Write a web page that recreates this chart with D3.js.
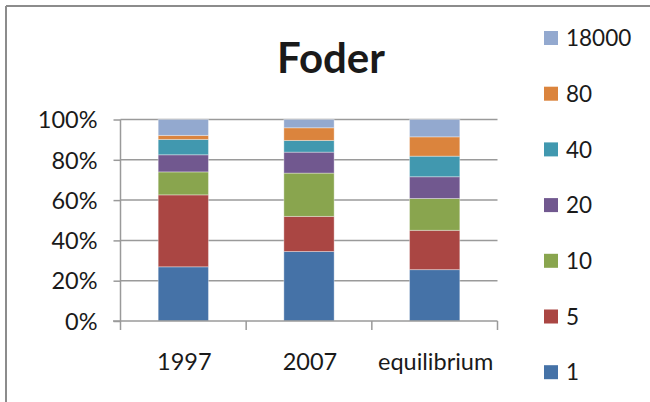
<!DOCTYPE html>
<html>
<head>
<meta charset="utf-8">
<script src="https://cdn.jsdelivr.net/npm/d3@7"></script>
<style>
  body { margin: 0; background: #fff; }
  svg text { font-family: Lato, "Open Sans", sans-serif; fill: #1a1a1a; }
</style>
</head>
<body>
<svg id="chart" width="650" height="402"></svg>
<script>
// Categories and series (share of total, %)
let categories = ["1997", "2007", "equilibrium"];
let seriesNames = ["1", "5", "10", "20", "40", "80", "18000"];
let s1 = [26.9, 34.5, 25.5];
let s5 = [35.7, 17.4, 19.5];
let s10 = [11.4, 21.5, 15.8];
let s20 = [8.5, 10.4, 10.8];
let s40 = [7.6, 5.8, 10.2];
let s80 = [2.0, 6.3, 9.6];
let s18000 = [7.9, 4.1, 8.6];
let yTicks = [0, 0.2, 0.4, 0.6, 0.8, 1];

let colors = ["#4572A7", "#AA4643", "#89A54E", "#71588F", "#4198AF", "#DB843D", "#93A9CF"];

// Build table rows for the stack
let allSeries = [s1, s5, s10, s20, s40, s80, s18000];
let rows = categories.map(function (c, i) {
    let row = { cat: c };
    let total = 0;
    allSeries.forEach(s => total += s[i]);
    seriesNames.forEach(function (n, j) { row[n] = allSeries[j][i] / total; });
    return row;
});

let svg = d3.select("#chart");

// outer frame (top and left edges visible)
svg.append("line").attr("x1", 6).attr("x2", 650).attr("y1", 6).attr("y2", 6)
    .attr("stroke", "#8c8c8c").attr("stroke-width", 2);
svg.append("line").attr("x1", 6).attr("x2", 6).attr("y1", 6).attr("y2", 402)
    .attr("stroke", "#8c8c8c").attr("stroke-width", 2);

let x = d3.scaleBand().domain(categories).range([120.5, 497.5]).paddingInner(0.6).paddingOuter(0.3);
let y = d3.scaleLinear().domain([0, 1]).range([321, 119.5]);

// gridlines
svg.append("g")
    .selectAll("line")
    .data(yTicks.slice(1))
    .enter()
    .append("line")
    .attr("x1", 120.5).attr("x2", 497.5)
    .attr("y1", d => y(d)).attr("y2", d => y(d))
    .attr("stroke", "#9a9a9a").attr("stroke-width", 1.5);

// stacked bars
let stack = d3.stack().keys(seriesNames);
let layers = stack(rows);

svg.append("g")
    .selectAll("g")
    .data(layers)
    .enter()
    .append("g")
    .attr("fill", (d, i) => colors[i])
    .selectAll("rect")
    .data(d => d)
    .enter()
    .append("rect")
    .attr("x", d => x(d.data.cat))
    .attr("width", x.bandwidth())
    .attr("y", d => y(d[1]))
    .attr("height", d => y(d[0]) - y(d[1]))
    .attr("stroke", "rgba(255,255,255,0.35)")
    .attr("stroke-width", 1);

// y axis
let yAxis = d3.axisLeft(y).tickValues(yTicks).tickFormat(d3.format(".0%")).tickSize(7).tickPadding(16);
let gy = svg.append("g").attr("transform", "translate(120.5,0)").call(yAxis);
gy.select(".domain").attr("stroke", "#9a9a9a").attr("stroke-width", 1.5).attr("d", "M0,119.5V321");
gy.selectAll(".tick line").attr("stroke", "#9a9a9a").attr("stroke-width", 1.5);
gy.selectAll("text").style("font-size", "23.5px").attr("dy", "0.35em").attr("fill", "#1a1a1a");

// x axis
let gx = svg.append("g").attr("transform", "translate(0,321)");
gx.append("line").attr("x1", 113).attr("x2", 497.5).attr("stroke", "#9a9a9a").attr("stroke-width", 1.5);
let xTickPos = [120.5].concat(categories.map(c => x(c) + x.bandwidth() / 2 + x.step() / 2));
gx.selectAll("line.tk")
    .data(xTickPos)
    .enter()
    .append("line")
    .attr("class", "tk")
    .attr("x1", d => d).attr("x2", d => d)
    .attr("y1", 0).attr("y2", 9)
    .attr("stroke", "#9a9a9a").attr("stroke-width", 1.5);
gx.selectAll("text")
    .data(categories)
    .enter()
    .append("text")
    .attr("x", d => x(d) + x.bandwidth() / 2 + 1)
    .attr("y", 49)
    .attr("text-anchor", "middle")
    .style("font-size", "23.5px")
    .text(d => d);

// title
svg.append("text")
    .attr("x", 331).attr("y", 73)
    .attr("text-anchor", "middle")
    .style("font-size", "42px").style("font-weight", "bold")
    .attr("fill", "#000")
    .text("Foder");

// legend (top to bottom: 18000 ... 1)
let legendItems = seriesNames.map((n, i) => ({ name: n, color: colors[i] })).reverse();
let legend = svg.append("g")
    .selectAll("g")
    .data(legendItems)
    .enter()
    .append("g")
    .attr("transform", (d, i) => "translate(544," + (38 + i * 55.7) + ")");
legend.append("rect")
    .attr("x", 0).attr("y", -7).attr("width", 14).attr("height", 14)
    .attr("fill", d => d.color);
legend.append("text")
    .attr("x", 22).attr("y", 0).attr("dy", "0.36em")
    .style("font-size", "22.5px")
    .text(d => d.name);
</script>
</body>
</html>
